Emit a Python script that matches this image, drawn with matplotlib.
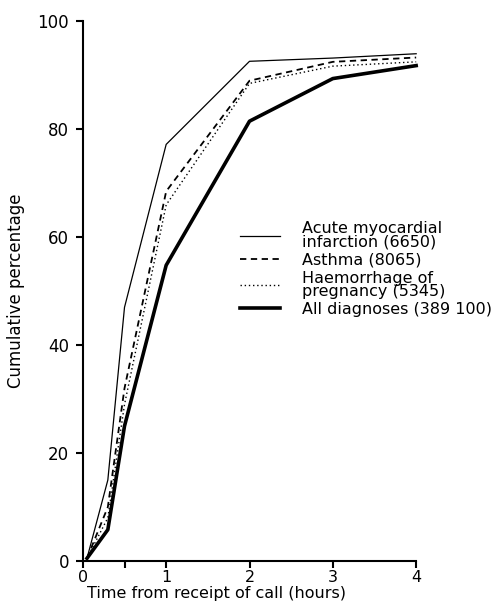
import matplotlib
matplotlib.use("Agg")
import matplotlib.pyplot as plt

plt.rcParams['font.family'] = ['DejaVu Sans']

hours = [0.05, 0.3, 0.5, 1, 2, 3, 4]
ami = [0.5, 15.0, 47.0, 77.2, 92.6, 93.2, 94.0]
asthma = [0.5, 10.0, 32.0, 68.5, 89.0, 92.5, 93.3]
haemorrhage = [0.5, 8.0, 29.0, 66.0, 88.5, 91.7, 92.5]
all_diag = [0.5, 5.8, 25.0, 54.8, 81.5, 89.4, 91.8]

labels = ["Acute myocardial\ninfarction (6650)", "Asthma (8065)",
          "Haemorrhage of\npregnancy (5345)", "All diagnoses (389 100)"]

x_ticks = [0, 0.5, 1, 2, 3, 4]
x_ticklabels = ["0", "", "1", "2", "3", "4"]
y_ticks = [0, 20, 40, 60, 80, 100]

fig = plt.figure(figsize=(4.99, 6.07), dpi=100)
ax = fig.add_axes([0.166, 0.0758, 0.668, 0.889])

ax.plot(hours, ami, color='black', lw=0.9, label=labels[0], clip_on=False)
ax.plot(hours, asthma, color='black', lw=1.3, dashes=(3.5, 2.5), label=labels[1], clip_on=False)
ax.plot(hours, haemorrhage, color='black', lw=1.0, dashes=(1, 2), label=labels[2], clip_on=False)
ax.plot(hours, all_diag, color='black', lw=2.6, label=labels[3], clip_on=False)

ax.set_xlim(0, 4)
ax.set_ylim(0, 100)
ax.set_xticks(x_ticks)
ax.set_xticklabels(x_ticklabels)
ax.set_yticks(y_ticks)

for s in ['top', 'right']:
    ax.spines[s].set_visible(False)
for s in ['left', 'bottom']:
    ax.spines[s].set_linewidth(1.5)

ax.tick_params(axis='both', direction='out', length=5, width=1.5, labelsize=12)
ax.tick_params(axis='x', pad=1.5, labelsize=11.5)
ax.tick_params(axis='y', pad=5)

ax.set_xlabel("Time from receipt of call (hours)", fontsize=11.5)
ax.set_ylabel("Cumulative percentage", fontsize=12)
ax.xaxis.set_label_coords(0.40, -0.047)
ax.yaxis.set_label_coords(-0.174, 0.50)

leg = ax.legend(loc='upper left', bbox_to_anchor=(0.471, 0.630), frameon=False,
                fontsize=11.5, handlelength=2.5, handletextpad=1.4,
                labelspacing=0.2, borderpad=0, borderaxespad=0)
for t in leg.get_texts():
    t.set_linespacing(0.85)

fig.savefig("out.png", dpi=100)
